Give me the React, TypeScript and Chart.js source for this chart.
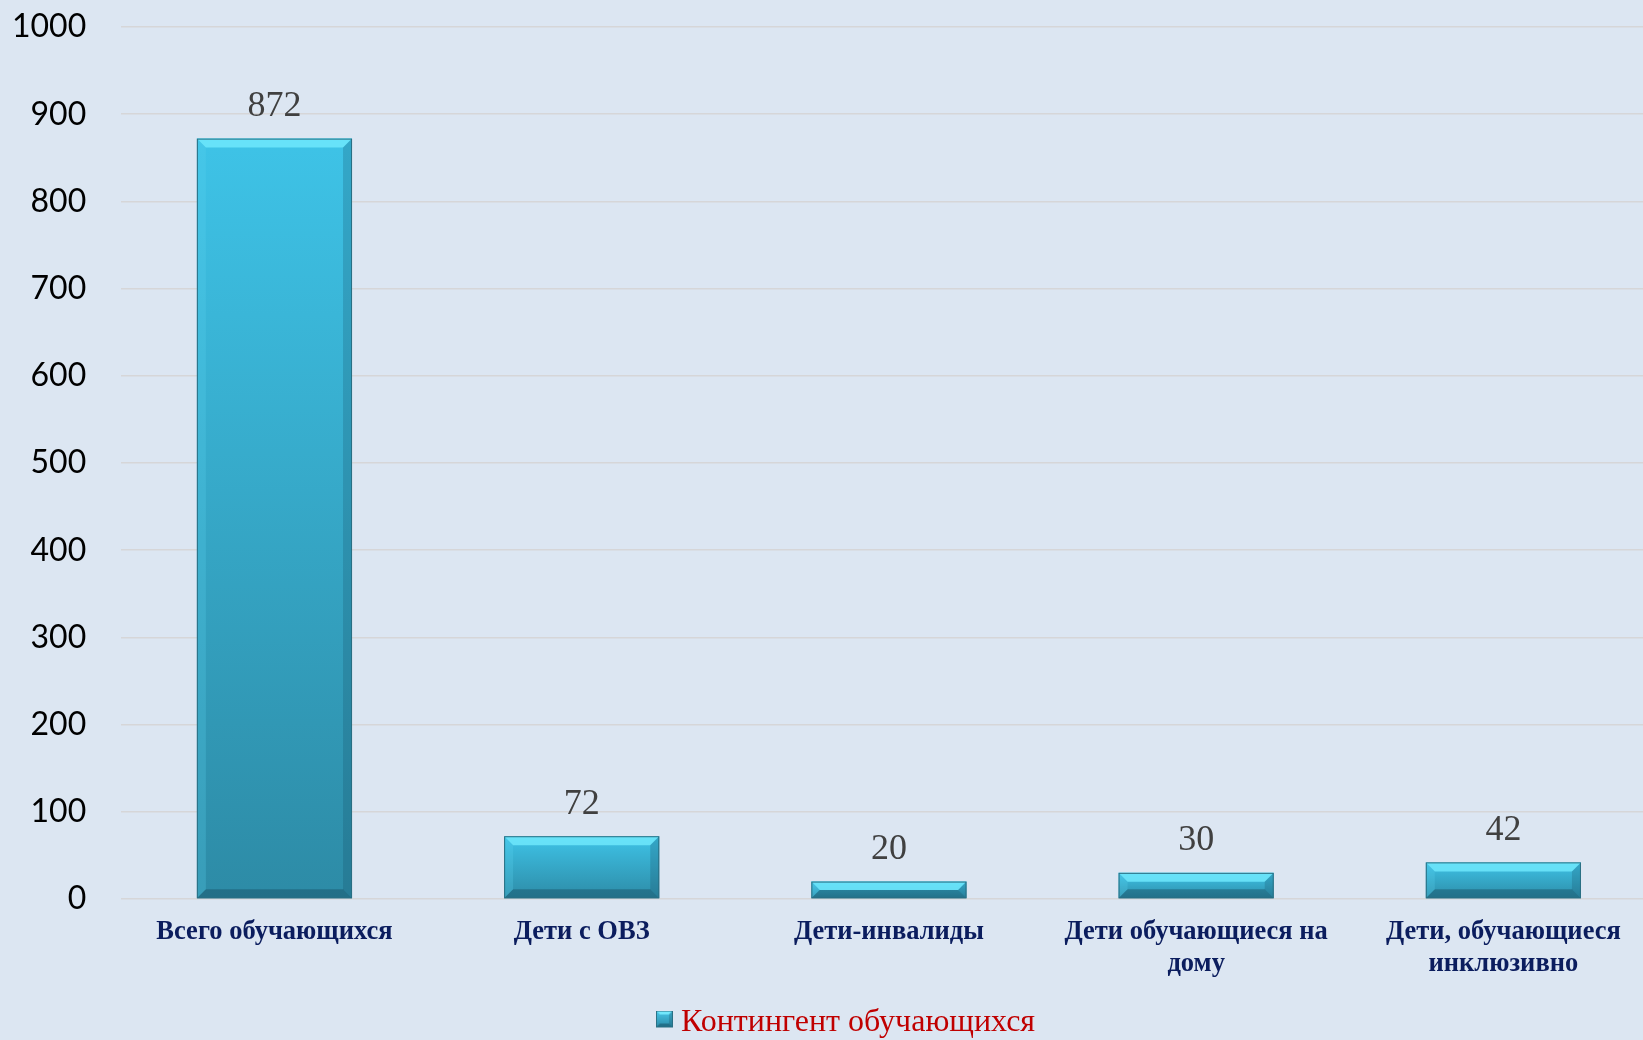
import React, { useEffect, useRef } from "react";
import { Chart, registerables } from "chart.js";

Chart.register(...registerables);

const categories: (string | string[])[] = [
  "Всего обучающихся",
  "Дети с ОВЗ",
  "Дети-инвалиды",
  ["Дети обучающиеся на", "дому"],
  ["Дети, обучающиеся", "инклюзивно"],
];
const seriesName = "Контингент обучающихся";
const values = [872, 72, 20, 30, 42];
const yMin = 0;
const yMax = 1000;
const yStep = 100;

const bevelPlugin = {
  id: "bevel",
  afterDatasetsDraw(chart: any) {
    const ctx = chart.ctx;
    const meta = chart.getDatasetMeta(0);
    meta.data.forEach((el: any) => {
      const { x, y, base, width } = el.getProps(["x", "y", "base", "width"], true);
      const l = x - width / 2;
      const r = x + width / 2;
      const t = Math.min(y, base);
      const b = Math.max(y, base);
      const bv = Math.min(9, (b - t) / 2);
      const poly = (pts: number[][], fill: any) => {
        ctx.beginPath();
        ctx.moveTo(pts[0][0], pts[0][1]);
        for (let i = 1; i < pts.length; i++) ctx.lineTo(pts[i][0], pts[i][1]);
        ctx.closePath();
        ctx.fillStyle = fill;
        ctx.fill();
      };
      ctx.save();
      poly([[l, t], [r, t], [r - bv, t + bv], [l + bv, t + bv]], "rgba(110,232,252,0.85)");
      poly([[l, t], [l + bv, t + bv], [l + bv, b - bv], [l, b]], "rgba(90,210,240,0.25)");
      poly([[r, t], [r, b], [r - bv, b - bv], [r - bv, t + bv]], "rgba(20,70,90,0.22)");
      poly([[l, b], [l + bv, b - bv], [r - bv, b - bv], [r, b]], "rgba(20,70,90,0.40)");
      ctx.strokeStyle = "#2a6f83";
      ctx.lineWidth = 1;
      ctx.strokeRect(l + 0.5, t + 0.5, width - 1, b - t - 1);
      ctx.restore();
    });
  },
};

const labelPlugin = {
  id: "valueLabels",
  afterDatasetsDraw(chart: any) {
    const ctx = chart.ctx;
    const meta = chart.getDatasetMeta(0);
    ctx.save();
    ctx.font = '36px "Liberation Serif", "Times New Roman", serif';
    ctx.fillStyle = "#404040";
    ctx.textAlign = "center";
    ctx.textBaseline = "middle";
    meta.data.forEach((el: any, i: number) => {
      ctx.fillText(String(values[i]), el.x, el.y - 32);
    });
    ctx.restore();
  },
};

const legendShiftPlugin = {
  id: "legendShift",
  afterLayout(chart: any) {
    const lg = chart.legend;
    if (lg) {
      lg.left += 17;
      lg.right += 17;
    }
  },
};

function makeMarker(): HTMLCanvasElement {
  const s = 17;
  const c = document.createElement("canvas");
  c.width = s;
  c.height = s + 8;
  const g = c.getContext("2d")!;
  const grad = g.createLinearGradient(0, 0, 0, s);
  grad.addColorStop(0, "#48c8ea");
  grad.addColorStop(1, "#2b8aa6");
  g.fillStyle = grad;
  g.fillRect(0, 0, s, s);
  const bv = 4;
  const poly = (pts: number[][], fill: string) => {
    g.beginPath();
    g.moveTo(pts[0][0], pts[0][1]);
    for (let i = 1; i < pts.length; i++) g.lineTo(pts[i][0], pts[i][1]);
    g.closePath();
    g.fillStyle = fill;
    g.fill();
  };
  poly([[0, 0], [s, 0], [s - bv, bv], [bv, bv]], "rgba(120,236,255,0.9)");
  poly([[0, s], [bv, s - bv], [s - bv, s - bv], [s, s]], "rgba(20,70,90,0.45)");
  poly([[s, 0], [s, s], [s - bv, s - bv], [s - bv, bv]], "rgba(20,70,90,0.25)");
  g.strokeStyle = "#2a6f83";
  g.lineWidth = 1;
  g.strokeRect(0.5, 0.5, s - 1, s - 1);
  return c;
}

export default function App() {
  const ref = useRef<HTMLCanvasElement | null>(null);
  useEffect(() => {
    if (!ref.current) return;
    const marker = makeMarker();
    const chart = new Chart(ref.current, {
      type: "bar",
      data: {
        labels: categories,
        datasets: [
          {
            label: seriesName,
            data: values,
            backgroundColor: (c: any) => {
              const ch = c.chart;
              const ys = ch.scales && ch.scales.y;
              if (!ys || c.type !== "data") return "#36a9c9";
              const top = ys.getPixelForValue(c.raw);
              const bot = ys.getPixelForValue(0);
              const g = ch.ctx.createLinearGradient(0, top, 0, bot);
              g.addColorStop(0, "#3ec3e7");
              g.addColorStop(1, "#2d8ba6");
              return g;
            },
            borderWidth: 0,
            categoryPercentage: 0.505,
            barPercentage: 1,
          },
        ],
      },
      options: {
        responsive: false,
        animation: false,
        layout: { padding: { left: 8, right: 32, top: 27, bottom: 0 } },
        plugins: {
          tooltip: { enabled: false },
          legend: {
            position: "bottom",
            labels: {
              usePointStyle: true,
              pointStyleWidth: 1,
              boxHeight: 15,
              padding: 10,
              color: "#c00000",
              font: { family: '"Liberation Serif", "Times New Roman", serif', size: 32 },
              generateLabels: () => [
                {
                  text: seriesName,
                  fillStyle: "#38aacb",
                  strokeStyle: "#2a6f83",
                  lineWidth: 1,
                  hidden: false,
                  datasetIndex: 0,
                  pointStyle: marker,
                  fontColor: "#c00000",
                },
              ],
            },
          },
        },
        scales: {
          x: {
            grid: { display: false, drawTicks: false },
            border: { display: false },
            ticks: {
              padding: 17.2,
              maxRotation: 0,
              autoSkip: false,
              color: "#0b1d5e",
              font: {
                family: '"Liberation Serif", "Times New Roman", serif',
                size: 26.5,
                weight: "bold",
                lineHeight: 1.2,
              },
            },
          },
          y: {
            min: yMin,
            max: yMax,
            grid: {
              color: "#d6d6d8",
              lineWidth: 1.5,
              drawTicks: true,
              tickLength: 30.6,
              tickColor: "rgba(0,0,0,0)",
            },
            border: { display: false },
            ticks: {
              stepSize: yStep,
              padding: 4,
              color: "#000000",
              font: { family: "Lato, 'Open Sans', sans-serif", size: 32 },
              callback: (v: any) => String(v),
            },
          },
        },
      },
      plugins: [bevelPlugin, labelPlugin, legendShiftPlugin],
    });
    return () => chart.destroy();
  }, []);

  return (
    <div
      style={{
        position: "fixed",
        left: 0,
        top: 0,
        width: 1643,
        height: 1040,
        overflow: "hidden",
        background: "#dce6f2",
      }}
    >
      <canvas ref={ref} width={1689} height={1049} style={{ width: 1689, height: 1049, display: "block" }} />
    </div>
  );
}
